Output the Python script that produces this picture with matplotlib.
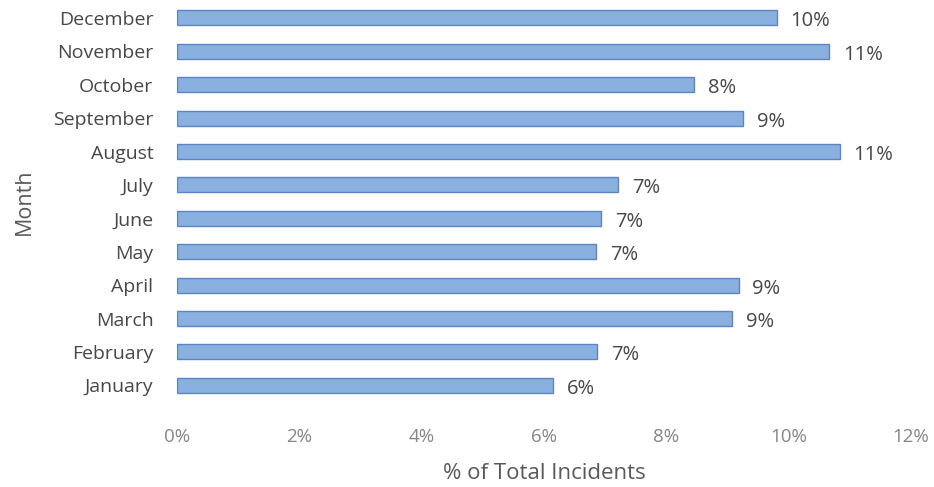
import numpy as np
import matplotlib.pyplot as plt

# Datos del gráfico (porcentaje del total de incidentes por mes)
meses = ['January', 'February', 'March', 'April', 'May', 'June',
         'July', 'August', 'September', 'October', 'November', 'December']
porcentajes = [6.15, 6.87, 9.07, 9.18, 6.85, 6.93,
               7.21, 10.83, 9.25, 8.45, 10.66, 9.80]
ticks_x = [0, 2, 4, 6, 8, 10, 12]

plt.rcParams['font.family'] = ['Open Sans', 'DejaVu Sans']

fig = plt.figure(figsize=(9.34, 4.87), dpi=100)
ax = fig.add_axes([0.1895, 0.1745, 0.786, 0.823])

y = np.arange(len(meses))
ax.barh(y, porcentajes, height=0.45, color='#8AB0E0', edgecolor='#5A86C5',
        linewidth=1.0)

# Etiquetas de valor al final de cada barra
for yi, v in zip(y, porcentajes):
    ax.annotate(f'{round(v):.0f}%', xy=(v, yi), xytext=(10, -2.5),
                textcoords='offset points', va='center', ha='left',
                fontsize=14.5, color='#474747')

ax.set_xlim(0, 12)
ax.set_ylim(-0.5, len(meses) - 0.5)
ax.set_xticks(ticks_x)
ax.set_xticklabels([f'{t}%' for t in ticks_x], color='#858585', fontsize=13.5)
ax.set_yticks(y)
ax.set_yticklabels(meses, fontsize=14, color='#474747')
ax.tick_params(axis='x', length=0, pad=19)
ax.tick_params(axis='y', length=0, pad=17)
for s in ax.spines.values():
    s.set_visible(False)

ax.set_xlabel('% of Total Incidents', fontsize=16, color='#595959', labelpad=12)
ax.set_ylabel('Month', fontsize=15.5, color='#595959', labelpad=13)

fig.savefig('out.png', dpi=100)
